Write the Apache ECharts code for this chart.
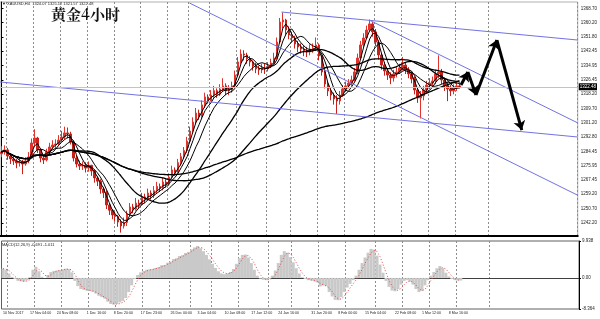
<!DOCTYPE html>
<html>
<head>
<meta charset="utf-8">
<script src="https://cdn.jsdelivr.net/npm/echarts@6/dist/echarts.min.js"></script>
<style>
  html, body { margin: 0; padding: 0; background: #fff; }
  #chart { width: 600px; height: 319px; }
</style>
</head>
<body>
<div id="chart"></div>
<script>
// XAUUSD H4, one entry per ~3 bars
const firstOpen = 1283.0
const closes = [
  1284.1, 1285.3, 1281.7, 1280.0, 1278.8, 1277.6, 1278.2, 1277.0, 1278.8, 1281.1,
  1289.4, 1292.3, 1285.3, 1280.5, 1279.4, 1284.1, 1287.0, 1288.2, 1288.8, 1291.1,
  1292.9, 1295.3, 1294.7, 1290.0, 1280.5, 1277.0, 1275.8, 1276.4, 1274.6, 1276.2,
  1272.9, 1268.8, 1266.9, 1262.3, 1260.1, 1252.9, 1249.8, 1247.0, 1246.1, 1242.8,
  1240.5, 1242.6, 1247.6, 1251.7, 1250.4, 1254.0, 1253.1, 1257.6, 1256.2, 1259.9,
  1258.4, 1261.3, 1263.8, 1262.7, 1266.4, 1265.1, 1269.2, 1273.5, 1272.0, 1277.8,
  1281.3, 1284.9, 1290.5, 1296.4, 1301.7, 1307.0, 1305.2, 1311.8, 1316.5, 1314.3,
  1317.6, 1320.2, 1318.1, 1321.2, 1323.0, 1320.0, 1320.6, 1323.0, 1329.4, 1337.1,
  1341.8, 1341.2, 1338.9, 1337.1, 1334.7, 1333.0, 1332.4, 1333.6, 1333.0, 1334.7,
  1336.5, 1339.4, 1348.8, 1360.6, 1361.8, 1355.9, 1353.0, 1351.2, 1347.7, 1345.9,
  1344.7, 1343.6, 1343.0, 1344.7, 1345.3, 1347.1, 1340.6, 1331.2, 1324.1, 1320.0,
  1317.6, 1315.3, 1314.1, 1317.6, 1321.2, 1323.0, 1324.7, 1326.5, 1331.2, 1339.4,
  1347.1, 1351.2, 1355.9, 1359.5, 1354.8, 1348.8, 1341.2, 1335.3, 1331.8, 1329.4,
  1327.7, 1330.0, 1331.2, 1333.6, 1335.3, 1332.4, 1330.0, 1327.1, 1320.6, 1315.9,
  1317.1, 1320.6, 1323.5, 1324.7, 1325.9, 1330.0, 1331.2, 1326.5, 1323.0, 1321.2,
  1320.0, 1321.8, 1323.0, 1322.48
]
const highs = [
  1287.5, 1288.0, 1286.5, 1283.0, 1281.5, 1280.0, 1280.5, 1279.5, 1281.0, 1284.0,
  1292.0, 1297.5, 1293.0, 1286.0, 1282.5, 1286.0, 1289.5, 1291.0, 1291.5, 1294.0,
  1296.5, 1299.0, 1298.5, 1296.0, 1291.0, 1282.0, 1279.0, 1278.5, 1278.0, 1278.5,
  1276.5, 1274.0, 1270.0, 1268.0, 1263.5, 1261.5, 1254.0, 1250.5, 1249.0, 1247.0,
  1244.5, 1245.5, 1249.5, 1254.0, 1253.5, 1257.0, 1256.0, 1260.0, 1259.5, 1262.5,
  1261.5, 1264.0, 1266.5, 1265.5, 1269.0, 1268.0, 1271.5, 1276.0, 1275.0, 1280.0,
  1283.5, 1287.0, 1293.0, 1299.0, 1304.5, 1310.0, 1309.0, 1314.5, 1319.0, 1318.0,
  1320.5, 1323.0, 1321.5, 1324.0, 1327.5, 1324.5, 1323.5, 1325.5, 1332.0, 1340.0,
  1344.5, 1344.0, 1342.5, 1340.5, 1338.0, 1336.5, 1335.0, 1336.0, 1336.0, 1337.0,
  1339.0, 1342.5, 1351.5, 1363.0, 1366.2, 1362.5, 1358.0, 1355.0, 1352.5, 1349.5,
  1348.0, 1347.0, 1346.0, 1347.5, 1348.0, 1351.5, 1348.0, 1341.5, 1332.0, 1325.5,
  1321.5, 1319.0, 1317.5, 1320.0, 1323.5, 1325.5, 1327.0, 1329.0, 1333.5, 1342.0,
  1349.5, 1354.0, 1358.5, 1362.0, 1360.5, 1356.5, 1350.0, 1342.5, 1337.0, 1333.5,
  1331.0, 1332.5, 1334.0, 1336.0, 1340.0, 1337.0, 1334.0, 1331.5, 1328.5, 1322.0,
  1320.0, 1323.0, 1326.0, 1327.5, 1328.5, 1332.5, 1341.0, 1333.0, 1328.0, 1325.5,
  1323.5, 1324.0, 1325.5, 1325.12
]
const lows = [
  1281.0, 1282.5, 1279.5, 1277.0, 1276.5, 1274.5, 1275.5, 1271.0, 1276.0, 1277.5,
  1280.5, 1287.5, 1283.5, 1278.0, 1277.0, 1278.5, 1283.0, 1285.5, 1286.0, 1287.5,
  1290.0, 1291.5, 1292.0, 1288.5, 1278.5, 1275.0, 1273.5, 1273.5, 1272.0, 1272.5,
  1270.0, 1266.0, 1264.0, 1259.5, 1257.0, 1250.5, 1247.0, 1244.5, 1243.0, 1240.0,
  1236.6, 1239.0, 1240.5, 1246.5, 1248.0, 1249.5, 1251.0, 1252.5, 1254.0, 1255.5,
  1256.0, 1257.0, 1260.0, 1260.5, 1261.5, 1263.0, 1264.0, 1268.0, 1270.0, 1271.0,
  1276.0, 1280.0, 1283.5, 1289.5, 1295.5, 1300.5, 1303.0, 1304.0, 1310.0, 1312.5,
  1314.0, 1316.0, 1316.0, 1317.0, 1319.5, 1317.5, 1317.5, 1319.0, 1322.0, 1328.5,
  1336.0, 1338.0, 1336.0, 1334.5, 1332.0, 1330.5, 1329.5, 1330.5, 1330.0, 1331.5,
  1333.5, 1335.5, 1338.5, 1348.0, 1357.0, 1353.0, 1350.5, 1348.5, 1345.0, 1343.0,
  1342.0, 1340.5, 1340.0, 1341.0, 1342.5, 1343.5, 1338.0, 1329.0, 1321.5, 1317.0,
  1314.5, 1312.0, 1306.5, 1312.0, 1316.5, 1319.5, 1321.5, 1323.0, 1325.5, 1330.0,
  1338.5, 1346.0, 1350.5, 1355.0, 1352.0, 1346.5, 1338.5, 1332.5, 1329.0, 1326.5,
  1324.0, 1325.5, 1328.0, 1330.0, 1332.0, 1330.0, 1327.5, 1324.5, 1318.0, 1313.0,
  1303.8, 1314.5, 1318.5, 1321.0, 1322.5, 1324.0, 1327.5, 1324.0, 1320.0, 1314.0,
  1317.0, 1318.0, 1320.0, 1321.57
]
// MACD(12,26,9) main value
const macd = [
  2.5, 2.2, 1.2, 0.3, -0.3, -0.8, -0.9, -1.0, -0.6, 0.2,
  2.2, 3.0, 1.8, 0.3, 0.0, 0.8, 1.6, 1.9, 2.0, 2.1,
  2.3, 2.5, 2.4, 1.5, -0.8, -2.2, -3.0, -3.2, -3.4, -3.5,
  -3.7, -4.2, -4.8, -5.2, -5.6, -6.4, -7.0, -7.2, -7.0, -6.6,
  -6.2, -5.4, -3.8, -2.0, -0.3, 0.8, 1.5, 1.9, 2.2, 2.3,
  2.4, 2.7, 2.9, 3.4, 3.5, 4.1, 4.4, 5.1, 5.3, 5.9,
  6.1, 6.7, 7.0, 7.7, 8.2, 8.6, 8.0, 7.2, 6.2, 5.0,
  3.8, 2.7, 1.8, 1.2, 1.0, 1.2, 1.6, 2.4, 3.8, 5.3,
  6.2, 6.3, 5.5, 4.0, 2.2, 0.6, -0.2, -0.5, -0.6, -0.3,
  0.6, 2.0, 4.0, 6.2, 7.2, 6.8, 5.6, 4.2, 2.6, 1.2,
  0.2, -0.3, -0.6, -0.7, -0.9, -1.2, -2.3, -2.0, -2.2, -3.8,
  -5.0, -5.9, -6.0, -5.2, -3.8, -2.6, -1.6, -0.6, 0.6, 2.2,
  4.0, 5.5, 6.8, 7.8, 7.6, 6.0, 3.6, 1.4, -0.8, -2.4,
  -3.4, -3.6, -3.0, -1.8, -0.8, -0.6, -1.0, -1.8, -3.0, -3.8,
  -3.5, -2.0, -0.6, 0.6, 1.6, 2.6, 3.2, 2.6, 1.4, 0.4,
  -0.3, -0.6, -0.7, -0.691
]
const maPeriods = [3, 5, 9, 22, 45, 100]
const slotCount = 193 // bar slots incl. empty space on the right

const priceTicks = [1368.70, 1360.20, 1351.80, 1343.45, 1334.95, 1326.45, 1318.20, 1309.70,
  1301.20, 1292.80, 1284.45, 1275.95, 1267.45, 1259.20, 1250.70, 1242.20]
const macdTicks = [9.938, 0, -8.364]
const timeLabelIdx = [0, 9, 18, 28, 37, 46, 56, 65, 74, 83, 92, 103, 112, 121, 131, 140, 149]
const timeLabels = ['10 Nov 2017', '17 Nov 04:00', '24 Nov 08:00', '1 Dec 16:00', '8 Dec 20:00',
  '17 Dec 23:00', '26 Dec 00:00', '3 Jan 04:00', '10 Jan 08:00', '17 Jan 12:00', '24 Jan 16:00',
  '31 Jan 20:00', '8 Feb 00:00', '15 Feb 04:00', '22 Feb 08:00', '1 Mar 12:00', '8 Mar 16:00']
const gridLineIdx = [2, 11, 20, 29, 38, 47, 56, 63, 70, 79, 89, 97, 106, 115, 125, 134, 143, 152, 163]

// drawn objects: [slot, price]
const trendLines = [
  [[93.5, 1366.5], [192.5, 1350.0]],
  [[122.8, 1361.8], [192.5, 1301.2]],
  [[62.8, 1371.8], [192.5, 1258.6]],
  [[-0.5, 1325.3], [192.5, 1292.9]]
]
const arrowPath = [[153.5, 1323.5], [155.8, 1331.2], [158.5, 1317.6], [165.5, 1350.0], [173.8, 1297.0]]

const chart = echarts.init(document.getElementById('chart'))

const slots = Array.from({ length: slotCount }, (_, i) => i)
const candles = closes.map((c, i) => {
  const o = i === 0 ? firstOpen : closes[i - 1]
  return [o, c, Math.min(lows[i], o, c), Math.max(highs[i], o, c)]
})
function sma(src, p) {
  return src.map((_, i) => {
    const s = src.slice(Math.max(0, i - p + 1), i + 1)
    return +(s.reduce((a, b) => a + b, 0) / s.length).toFixed(2)
  })
}
const signal = sma(macd, 3)
const labelMap = {}
timeLabelIdx.forEach((k, i) => { labelMap[k] = timeLabels[i] })
const gridSet = new Set(gridLineIdx)
const arrowSegs = []
for (let i = 1; i < arrowPath.length; i++) arrowSegs.push({ coords: [arrowPath[i - 1], arrowPath[i]] })

const tinyFont = 'Liberation Sans'
const dashLine = { show: true, interval: (i) => gridSet.has(i), lineStyle: { color: '#8c8c8c', type: [2, 2], width: 1 } }

let option = {
  animation: false,
  backgroundColor: '#fff',
  grid: [
    { left: 0, right: 21, top: 2, height: 234, show: true, borderColor: '#b0b0b0', borderWidth: 1 },
    { left: 0, right: 21, top: 241, height: 68, show: true, borderColor: '#606060', borderWidth: 1 }
  ],
  xAxis: [
    {
      type: 'category', gridIndex: 0, data: slots, boundaryGap: true,
      axisLine: { show: true, lineStyle: { color: '#000', width: 2 } },
      axisTick: { show: false }, axisLabel: { show: false },
      splitLine: dashLine
    },
    {
      type: 'category', gridIndex: 1, data: slots, boundaryGap: true,
      axisLine: { show: true, lineStyle: { color: '#404040', width: 1 } },
      axisTick: { show: false },
      axisLabel: {
        interval: (i) => labelMap[i] !== undefined,
        formatter: (v, i) => labelMap[i] || '',
        align: 'left', margin: 2, fontSize: 3.6, color: '#222', fontFamily: tinyFont
      },
      splitLine: dashLine
    },
    { type: 'value', gridIndex: 0, min: -0.5, max: slotCount - 0.5, show: false }
  ],
  yAxis: [
    {
      type: 'value', gridIndex: 0, position: 'right', min: 1234.6, max: 1372.4,
      axisLine: { show: true, lineStyle: { color: '#000', width: 1 } },
      axisTick: { show: true, length: 2, customValues: priceTicks, lineStyle: { color: '#000' } },
      axisLabel: {
        customValues: priceTicks, formatter: (v) => v.toFixed(2),
        margin: 3, fontSize: 4.5, color: '#222', fontFamily: tinyFont
      },
      splitLine: { show: false }
    },
    {
      type: 'value', gridIndex: 1, position: 'right', min: -8.364, max: 9.938,
      axisLine: { show: true, lineStyle: { color: '#000', width: 1 } },
      axisTick: { show: true, length: 2, customValues: macdTicks, lineStyle: { color: '#000' } },
      axisLabel: {
        customValues: macdTicks, formatter: (v) => (v === 0 ? '0.00' : v.toFixed(3)),
        margin: 3, fontSize: 4.5, color: '#222', fontFamily: tinyFont
      },
      splitLine: { show: false }
    }
  ],
  graphic: [
    { type: 'text', left: 2, top: 2, style: { text: '▼ XAUUSD,H4  1324.07 1325.12 1321.57 1322.48', fontSize: 4, fill: '#222', fontFamily: tinyFont } },
    { type: 'text', left: 51, top: 7, style: { text: '黄金4小时', font: 'bold 15px "Noto Serif CJK SC", "Noto Sans CJK SC"', fill: '#111' } },
    { type: 'text', left: 2, top: 243, style: { text: 'MACD(12,26,9) -0.691 -1.011', fontSize: 4, fill: '#222', fontFamily: tinyFont } }
  ],
  series: [
    {
      type: 'candlestick', xAxisIndex: 0, yAxisIndex: 0, data: candles, barWidth: 2,
      itemStyle: { color: '#e2342c', color0: '#c8201a', borderColor: '#e2342c', borderColor0: '#c8201a', borderWidth: 1 },
      markLine: {
        silent: true, symbol: 'none',
        data: [
          { yAxis: 1322.48, label: { formatter: '1322.48' } },
          { yAxis: 1234.6, lineStyle: { opacity: 0 }, label: { formatter: '1234.55' } }
        ],
        lineStyle: { color: '#c4c4c4', type: 'solid', width: 1 },
        label: { position: 'end', distance: 1, backgroundColor: '#000', color: '#fff', fontSize: 4.5, padding: [1, 1], fontFamily: tinyFont }
      }
    },
    ...maPeriods.map((p, k) => ({
      type: 'line', xAxisIndex: 0, yAxisIndex: 0, data: sma(closes, p),
      showSymbol: false, smooth: k > 2, z: 3,
      lineStyle: { color: '#000', width: k > 2 ? 1.3 : 1 }
    })),
    {
      type: 'lines', coordinateSystem: 'cartesian2d', xAxisIndex: 2, yAxisIndex: 0, z: 4,
      data: trendLines.map(c => ({ coords: c })),
      lineStyle: { color: '#7272e2', width: 1, opacity: 1 }
    },
    {
      type: 'lines', coordinateSystem: 'cartesian2d', xAxisIndex: 2, yAxisIndex: 0, z: 5,
      data: arrowSegs, symbol: ['none', 'arrow'], symbolSize: 9,
      lineStyle: { color: '#000', width: 3, opacity: 1 }
    },
    {
      type: 'bar', xAxisIndex: 1, yAxisIndex: 1, data: macd, barWidth: '100%',
      itemStyle: { color: '#c9c9c9' }
    },
    {
      type: 'line', xAxisIndex: 1, yAxisIndex: 1, data: signal, showSymbol: false,
      lineStyle: { color: '#e04a4a', width: 1, type: [1, 2] }
    }
  ]
}
chart.setOption(option)
</script>
</body>
</html>
